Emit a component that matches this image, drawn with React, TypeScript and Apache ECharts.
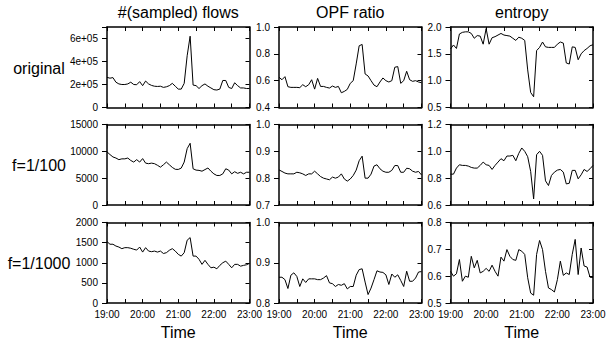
import { useEffect, useRef } from 'react';
import * as echarts from 'echarts';

// Time in minutes after 19:00 (5-minute bins)
const minutes = [0, 5, 10, 15, 20, 25, 30, 35, 40, 45, 50, 55, 60, 65, 70, 75, 80, 85, 90, 95, 100, 105, 110, 115, 120, 125, 130, 135, 140, 145, 150, 155, 160, 165, 170, 175, 180, 185, 190, 195, 200, 205, 210, 215, 220, 225, 230, 235, 240];

const flowsOrig = [262000, 255000, 260000, 220000, 205000, 200000, 200000, 205000, 220000, 200000, 198000, 225000, 190000, 230000, 205000, 192000, 185000, 183000, 185000, 175000, 180000, 190000, 210000, 185000, 160000, 160000, 210000, 450000, 620000, 195000, 190000, 165000, 190000, 205000, 185000, 170000, 155000, 152000, 160000, 235000, 235000, 175000, 165000, 215000, 190000, 170000, 170000, 165000, 165000];
const opfOrig = [0.625, 0.607, 0.63, 0.555, 0.55, 0.55, 0.55, 0.548, 0.57, 0.555, 0.57, 0.607, 0.537, 0.617, 0.557, 0.557, 0.55, 0.545, 0.56, 0.55, 0.557, 0.51, 0.52, 0.535, 0.58, 0.6, 0.725, 0.86, 0.87, 0.65, 0.635, 0.6, 0.567, 0.555, 0.59, 0.62, 0.6, 0.59, 0.6, 0.7, 0.705, 0.58, 0.6, 0.67, 0.607, 0.595, 0.6, 0.59, 0.585];
const entropyOrig = [1.59, 1.665, 1.6, 1.87, 1.9, 1.91, 1.91, 1.88, 1.79, 1.84, 1.83, 1.68, 1.97, 1.68, 1.8, 1.82, 1.85, 1.88, 1.85, 1.84, 1.83, 1.79, 1.75, 1.81, 1.79, 1.75, 1.2, 0.78, 0.7, 1.56, 1.62, 1.72, 1.63, 1.62, 1.62, 1.62, 1.68, 1.72, 1.7, 1.33, 1.31, 1.63, 1.62, 1.39, 1.5, 1.56, 1.6, 1.65, 1.67];

const flows100 = [9900, 9400, 8950, 8750, 8450, 8600, 8600, 8750, 8300, 8000, 8450, 8000, 8650, 7800, 7700, 7800, 7700, 7400, 7050, 7500, 8000, 7500, 7000, 6650, 6625, 6875, 8000, 10500, 11500, 6750, 6500, 6450, 6300, 6600, 6900, 6300, 5800, 5500, 5500, 5800, 6750, 6500, 5800, 6200, 5900, 6100, 5800, 6100, 6100];
const opf100 = [0.831, 0.825, 0.819, 0.816, 0.816, 0.816, 0.822, 0.82, 0.816, 0.81, 0.816, 0.816, 0.826, 0.816, 0.806, 0.8, 0.797, 0.794, 0.804, 0.8, 0.804, 0.816, 0.797, 0.789, 0.797, 0.81, 0.83, 0.865, 0.882, 0.8, 0.8, 0.815, 0.845, 0.85, 0.835, 0.826, 0.822, 0.822, 0.829, 0.847, 0.847, 0.822, 0.822, 0.837, 0.835, 0.826, 0.822, 0.825, 0.812];
const entropy100 = [0.83, 0.83, 0.875, 0.9, 0.895, 0.895, 0.89, 0.88, 0.875, 0.875, 0.895, 0.92, 0.9, 0.895, 0.865, 0.895, 0.92, 0.945, 0.93, 0.965, 0.965, 0.97, 0.93, 0.985, 1.025, 1.0, 0.96, 0.85, 0.645, 0.975, 1.0, 0.97, 0.78, 0.745, 0.82, 0.845, 0.86, 0.865, 0.845, 0.757, 0.762, 0.858, 0.858, 0.795, 0.825, 0.865, 0.85, 0.87, 0.895];

const flows1000 = [1525, 1460, 1460, 1415, 1390, 1350, 1375, 1375, 1360, 1335, 1315, 1390, 1265, 1375, 1290, 1275, 1290, 1265, 1290, 1230, 1250, 1310, 1350, 1290, 1210, 1165, 1250, 1560, 1625, 1165, 1165, 1085, 960, 1060, 960, 875, 890, 850, 935, 1000, 1040, 960, 875, 960, 960, 915, 935, 950, 985];
const opf1000 = [0.864, 0.864, 0.858, 0.836, 0.869, 0.875, 0.866, 0.841, 0.86, 0.851, 0.86, 0.86, 0.86, 0.858, 0.858, 0.862, 0.868, 0.85, 0.848, 0.841, 0.846, 0.844, 0.848, 0.835, 0.841, 0.841, 0.869, 0.883, 0.885, 0.852, 0.821, 0.837, 0.858, 0.88, 0.877, 0.876, 0.87, 0.846, 0.872, 0.864, 0.87, 0.856, 0.841, 0.879, 0.854, 0.854, 0.862, 0.877, 0.878];
const entropy1000 = [0.618, 0.6, 0.609, 0.662, 0.581, 0.6, 0.596, 0.674, 0.631, 0.659, 0.612, 0.618, 0.629, 0.618, 0.641, 0.618, 0.6, 0.671, 0.656, 0.699, 0.674, 0.662, 0.659, 0.699, 0.693, 0.681, 0.594, 0.537, 0.529, 0.681, 0.733, 0.699, 0.618, 0.556, 0.55, 0.541, 0.587, 0.656, 0.603, 0.612, 0.606, 0.681, 0.737, 0.606, 0.705, 0.638, 0.634, 0.596, 0.595];

const colTitles = ['#(sampled) flows', 'OPF ratio', 'entropy'];
const rowLabels = ['original', 'f=1/100', 'f=1/1000'];
const xTickLabels = ['19:00', '20:00', '21:00', '22:00', '23:00'];
const xLabel = 'Time';

// [min, max, interval] per row, per column
const yScales = [
  [[0, 700000, 200000], [0.4, 1.0, 0.2], [0.5, 2.0, 0.5]],
  [[0, 15000, 5000], [0.7, 1.0, 0.1], [0.6, 1.2, 0.2]],
  [[0, 2000, 500], [0.8, 1.0, 0.1], [0.5, 0.8, 0.1]],
];
const seriesRows = [
  [flowsOrig, opfOrig, entropyOrig],
  [flows100, opf100, entropy100],
  [flows1000, opf1000, entropy1000],
];

const FONT = 'Liberation Sans, Arial, Helvetica, sans-serif';
const colLeft = [107, 279, 450.5];
const colWidth = 142.5;
const rowTop = [27, 124.5, 222.5];
const rowHeight = 80.5;

function yFormatter(r: number, c: number) {
  return (v: number) => {
    if (c === 0) {
      if (r === 0) {
        if (v % 200000 !== 0) return '';
        return v === 0 ? '0' : `${v / 100000}e+05`;
      }
      return String(Math.round(v));
    }
    return v.toFixed(1);
  };
}

export default function App() {
  const ref = useRef<HTMLDivElement>(null);
  useEffect(() => {
    if (!ref.current) return;
    const chart = echarts.init(ref.current, undefined, { renderer: 'svg' });
    const grid: any[] = [];
    const xAxis: any[] = [];
    const yAxis: any[] = [];
    const series: any[] = [];
    const lineStyle = { color: '#000', width: 1.5 };
    for (let r = 0; r < 3; r++) {
      for (let c = 0; c < 3; c++) {
        const i = r * 3 + c;
        const [ymin, ymax, yint] = yScales[r][c];
        grid.push({ left: colLeft[c], top: rowTop[r], width: colWidth, height: rowHeight, outerBoundsMode: 'none' });
        xAxis.push({
          type: 'value', gridIndex: i, min: 0, max: 240, interval: 30, position: 'bottom',
          axisLine: { show: true, onZero: false, lineStyle },
          axisTick: { show: true, inside: true, length: 4, lineStyle: { color: '#000', width: 1 } },
          axisLabel: {
            show: r === 2, hideOverlap: false, showMinLabel: true, showMaxLabel: true,
            formatter: (v: number) => (v % 60 === 0 ? xTickLabels[v / 60] : ''),
            fontSize: 10, fontFamily: FONT, color: '#000', margin: 6,
          },
          splitLine: { show: false },
        });
        xAxis.push({
          type: 'value', gridIndex: i, min: 0, max: 240, interval: 30, position: 'top',
          axisLine: { show: true, onZero: false, lineStyle },
          axisTick: { show: true, inside: true, length: 4, lineStyle: { color: '#000', width: 1 } },
          axisLabel: { show: false },
          splitLine: { show: false },
        });
        yAxis.push({
          type: 'value', gridIndex: i, min: ymin, max: ymax, interval: yint, position: 'left',
          axisLine: { show: true, onZero: false, lineStyle },
          axisTick: { show: true, inside: false, length: 5, lineStyle: { color: '#000', width: 1 } },
          axisLabel: {
            show: true, hideOverlap: false, formatter: yFormatter(r, c),
            fontSize: 10, fontFamily: FONT, color: '#000', margin: 9,
          },
          splitLine: { show: false },
        });
        yAxis.push({
          type: 'value', gridIndex: i, min: ymin, max: ymax, interval: yint, position: 'right',
          axisLine: { show: true, onZero: false, lineStyle },
          axisTick: { show: true, inside: true, length: 4, lineStyle: { color: '#000', width: 1 } },
          axisLabel: { show: false },
          splitLine: { show: false },
        });
        const vals = seriesRows[r][c];
        series.push({
          type: 'line', xAxisIndex: 2 * i, yAxisIndex: 2 * i,
          data: minutes.map((m, k) => [m, vals[k]]),
          showSymbol: false, symbol: 'none',
          lineStyle: { color: '#000', width: 1 },
          silent: true,
        });
      }
    }
    const graphic: any[] = [];
    for (let c = 0; c < 3; c++) {
      const cx = colLeft[c] + colWidth / 2;
      graphic.push({
        type: 'text', x: cx, y: 12,
        style: { text: colTitles[c], fontSize: 16, fontFamily: FONT, fill: '#000', textAlign: 'center', textVerticalAlign: 'middle' },
      });
      graphic.push({
        type: 'text', x: cx, y: 332,
        style: { text: xLabel, fontSize: 16, fontFamily: FONT, fill: '#000', textAlign: 'center', textVerticalAlign: 'middle' },
      });
    }
    for (let r = 0; r < 3; r++) {
      graphic.push({
        type: 'text', x: 39, y: rowTop[r] + rowHeight / 2 + 1,
        style: { text: rowLabels[r], fontSize: 16, fontFamily: FONT, fill: '#000', textAlign: 'center', textVerticalAlign: 'middle' },
      });
    }
    chart.setOption({
      animation: false,
      backgroundColor: '#fff',
      grid, xAxis, yAxis, series, graphic,
    });
    return () => chart.dispose();
  }, []);
  return <div ref={ref} style={{ position: 'absolute', left: 0, top: 0, width: 609, height: 343 }} />;
}
